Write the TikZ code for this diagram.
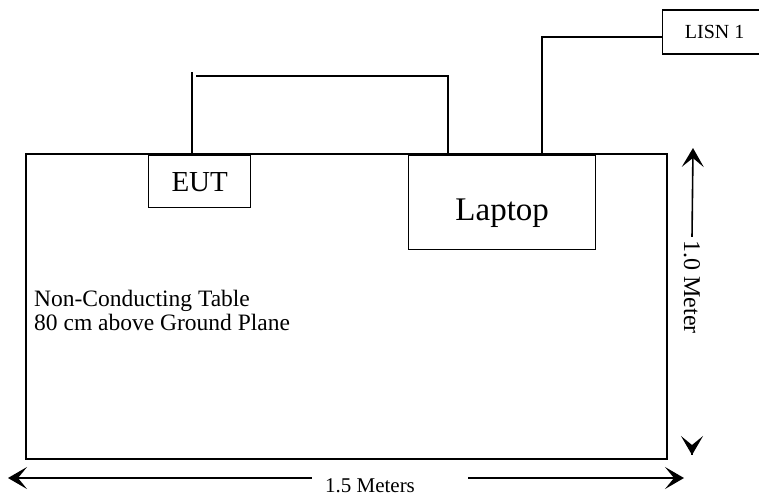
\documentclass[tikz,border=0pt]{standalone}
\usepackage{fontspec}
\setmainfont{Liberation Serif}
\usetikzlibrary{arrows.meta}
\tikzset{
  box/.style={draw, line width=1.4pt, inner sep=0pt},
  cable/.style={line width=1.4pt},
  dim/.style={line width=1.6pt, -{Stealth[length=19pt, width=22pt, inset=9pt]}},
}
\begin{document}
\begin{tikzpicture}[x=1pt, y=-1pt]
    \useasboundingbox (0,0) rectangle (759,496);
    \draw[line width=2.8pt] (26,154) rectangle (667,459);
    \node[box, anchor=north west, minimum width=102pt, minimum height=52pt, font=\fontsize{29}{32}\selectfont] (eut) at (148,155) {EUT};
    \node[box, anchor=north west, minimum width=187pt, minimum height=94pt, text height=42pt, text depth=7pt, font=\fontsize{33}{36}\selectfont] (laptop) at (408,155) {Laptop};
    \node[box, anchor=west, minimum width=104pt, minimum height=44pt, font=\fontsize{20}{24}\selectfont] (lisn) at (662,32) {LISN 1};
    \coordinate (eutup) at (192,72);
    \coordinate (bendl) at (196,76);
    \coordinate (bendr) at (448,76);
    \coordinate (lisnup) at (542,37);
    \draw[cable] (eut.north -| eutup) -- (eutup);
    \draw[cable] (bendl) -- (bendr) -- (laptop.north -| bendr);
    \draw[cable] (laptop.north -| lisnup) -- (lisnup) -- (lisnup -| lisn.west);
    \node[anchor=north west, inner sep=0pt, align=left, font=\fontsize{23.5}{24}\selectfont] (tabletext) at (34,290)
        {Non-Conducting Table\\80 cm above Ground Plane};
    \node[font=\fontsize{21}{24}\selectfont] (wlabel) at (370,486) {1.5 Meters};
    \node[rotate=-90, font=\fontsize{24}{26}\selectfont] (hlabel) at (692,287) {1.0 Meter};
    \coordinate (wleft) at (8,478);
    \coordinate (wright) at (684,478);
    \coordinate (htop) at (693,148);
    \coordinate (hbot) at (692,455);
    \draw[dim] (wlabel.west |- wleft) ++(-10,0) -- (wleft);
    \draw[dim] (wlabel.east |- wright) ++(50,0) -- (wright);
    \draw[dim] (hlabel.west) -- (htop);
    \draw[dim] (692,454.9) -- (hbot);
\end{tikzpicture}
\end{document}
